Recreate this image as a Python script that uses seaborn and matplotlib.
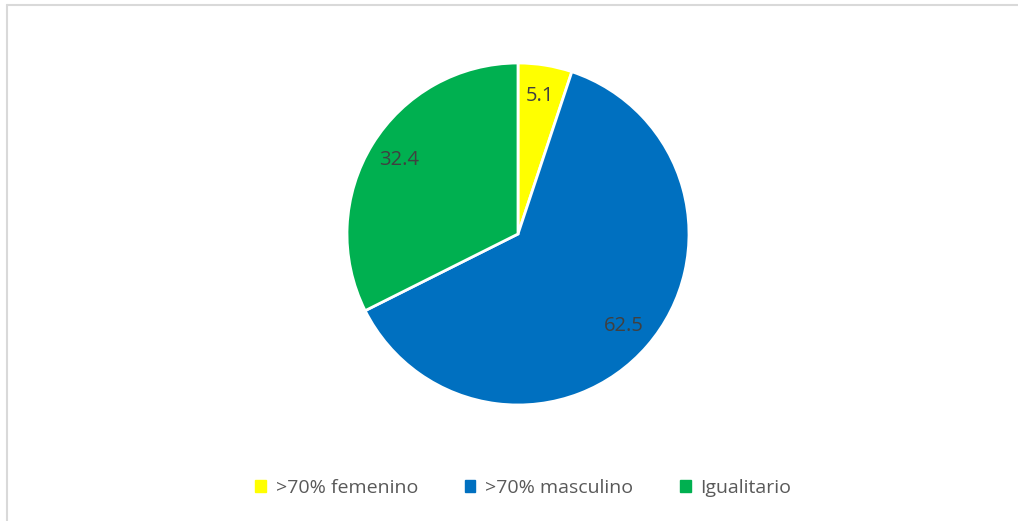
import matplotlib
matplotlib.use('Agg')
import numpy as np
import matplotlib.pyplot as plt
import matplotlib.patches as mpatches
from matplotlib.lines import Line2D
import seaborn as sns

categorias = ['>70% femenino', '>70% masculino', 'Igualitario']
valores = [5.1, 62.5, 32.4]
colores = ['#FFFF00', '#0070C0', '#00B050']

sns.set_theme(style='white')
plt.rcParams['font.family'] = ['Open Sans', 'DejaVu Sans']

fig = plt.figure(figsize=(10.18, 5.21), dpi=100)
ax = fig.add_axes([347 / 1018, 116 / 521, 342 / 1018, 342 / 521])

palette = sns.color_palette(colores)
wedges, texts = ax.pie(valores, colors=palette, startangle=90, counterclock=False,
                       radius=1, wedgeprops=dict(edgecolor='white', linewidth=2))
for w, v in zip(wedges, valores):
    ang = (w.theta1 + w.theta2) / 2
    r = 0.82
    ax.text(r * np.cos(np.radians(ang)), r * np.sin(np.radians(ang)), f'{v:.1f}',
            ha='center', va='center', fontsize=14.5, color='#404040')
ax.set_xlim(-1, 1)
ax.set_ylim(-1, 1)
ax.set_aspect('equal')
ax.axis('off')

handles = [mpatches.Patch(color=c, label=l) for c, l in zip(colores, categorias)]
fig.legend(handles=handles, loc='center', bbox_to_anchor=(0.514, 0.063), ncol=3,
           frameon=False, fontsize=14, labelcolor='#595959', handlelength=0.55,
           handleheight=0.55, handletextpad=0.5, columnspacing=2.4)

# borde del gráfico (solo arriba e izquierda visibles)
fig.add_artist(Line2D([6.5 / 1018, 6.5 / 1018], [0, 1 - 5 / 521], color='#d9d9d9', lw=1.5))
fig.add_artist(Line2D([6.5 / 1018, 1], [1 - 5 / 521, 1 - 5 / 521], color='#d9d9d9', lw=1.5))

fig.savefig('out.png', dpi=100, facecolor='white')
